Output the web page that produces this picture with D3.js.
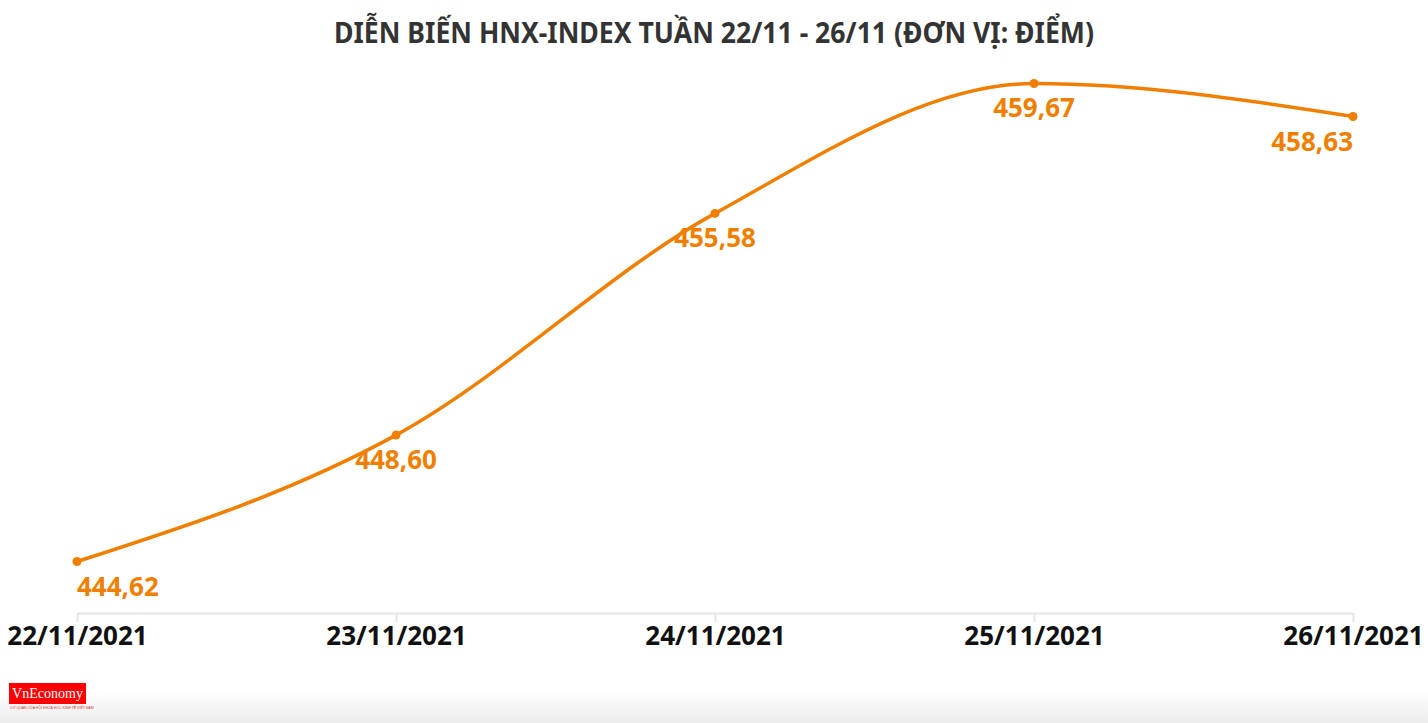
<!DOCTYPE html>
<html><head><meta charset="utf-8">
<script src="https://cdn.jsdelivr.net/npm/d3@7"></script>
<style>
html,body{margin:0;padding:0;background:#fff;}
svg{display:block;}
</style></head>
<body>
<svg id="chart" width="1428" height="723"></svg>
<script>
const title = "DIỄN BIẾN HNX-INDEX TUẦN 22/11 - 26/11 (ĐƠN VỊ: ĐIỂM)";
const categories = ["22/11/2021","23/11/2021","24/11/2021","25/11/2021","26/11/2021"];
const values = [444.62, 448.60, 455.58, 459.67, 458.63];
const valueLabels = ["444,62","448,60","455,58","459,67","458,63"];

(function(){
const svg = d3.select("#chart");
const W = 1428, H = 723;
const mLeft = 77, mRight = 1353, mTop = 73, mBottom = 613;
const color = "#f07f00";

const defs = svg.append("defs");
const g = defs.append("linearGradient").attr("id","fade").attr("x1",0).attr("y1",0).attr("x2",0).attr("y2",1);
g.append("stop").attr("offset","0%").attr("stop-color","#fff");
g.append("stop").attr("offset","100%").attr("stop-color","#ececec");
svg.append("rect").attr("x",0).attr("y",690).attr("width",W).attr("height",33).attr("fill","url(#fade)");

const x = d3.scalePoint().domain(categories).range([mLeft, mRight]);
const y = d3.scaleLinear().domain([443, 460]).range([mBottom, mTop]);

svg.append("text").attr("x", 714).attr("y", 43).attr("text-anchor","middle")
  .attr("font-family","'Noto Sans', sans-serif").attr("font-weight",700)
  .attr("font-size",29).attr("fill","#333").attr("textLength",760).attr("lengthAdjust","spacingAndGlyphs")
  .text(title);

const axis = d3.axisBottom(x).tickSize(9).tickPadding(5);
const ax = svg.append("g").attr("transform",`translate(0,${mBottom})`).call(axis);
ax.select(".domain").attr("stroke","#e6e6e6").attr("stroke-width",2).attr("d",`M${mLeft},0.5H${mRight}`);
ax.selectAll(".tick line").attr("stroke","#e6e6e6").attr("stroke-width",2);
ax.selectAll(".tick text").attr("fill","#111").attr("font-family","'Open Sans', sans-serif")
  .attr("font-weight",700).attr("font-size",26).attr("dy","0.71em");

const pts = categories.map((c,i)=>({c, v: values[i], l: valueLabels[i]}));
const line = d3.line().x(d=>x(d.c)).y(d=>y(d.v)).curve(d3.curveMonotoneX);
svg.append("path").datum(pts).attr("d", line).attr("fill","none").attr("stroke",color).attr("stroke-width",3.5);
svg.selectAll("circle.pt").data(pts).join("circle").attr("class","pt")
  .attr("cx",d=>x(d.c)).attr("cy",d=>y(d.v)).attr("r",4.5).attr("fill",color);

svg.selectAll("text.lbl").data(pts).join("text").attr("class","lbl")
  .attr("x",d=>x(d.c))
  .attr("text-anchor",(d,i)=> i===0 ? "start" : (i===pts.length-1 ? "end" : "middle"))
  .attr("y",d=>y(d.v)+34)
  .attr("font-family","'Open Sans', sans-serif").attr("font-weight",700).attr("font-size",26)
  .attr("fill",color).text(d=>d.l);

const logo = svg.append("g").attr("transform","translate(9,683)");
logo.append("rect").attr("width",77).attr("height",21).attr("fill","#f00");
logo.append("text").attr("x",38.5).attr("y",15).attr("text-anchor","middle").attr("fill","#fff")
  .attr("font-family","'Liberation Serif', serif").attr("font-size",14).text("VnEconomy");
logo.append("text").attr("x",1).attr("y",26).attr("fill","#c33").attr("font-size",3.5)
  .attr("font-family","'Liberation Sans', sans-serif").text("CƠ QUAN CỦA HỘI KHOA HỌC KINH TẾ VIỆT NAM");
})();
</script>
</body></html>
